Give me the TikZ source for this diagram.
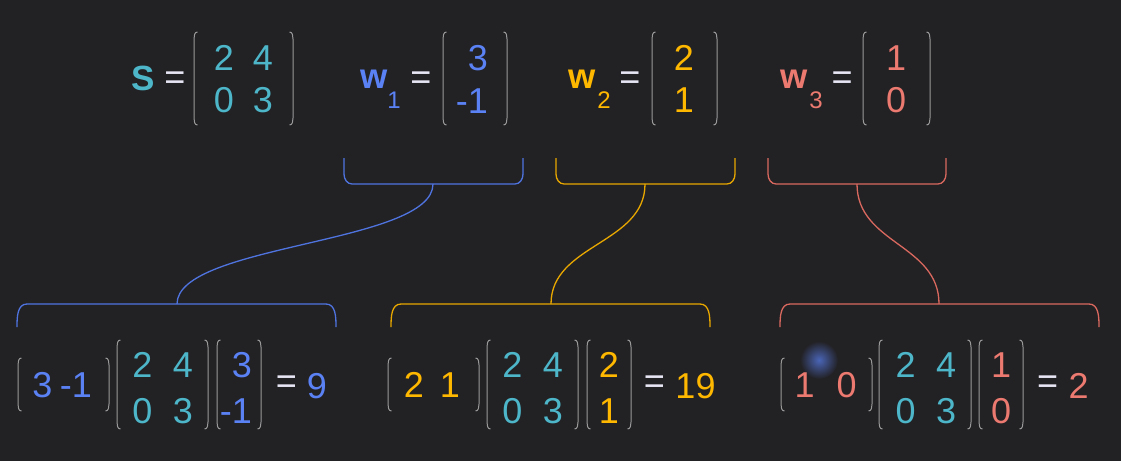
\documentclass[tikz,border=0pt]{standalone}
\usepackage{fontspec}
\setmainfont{Liberation Sans}
\definecolor{bg}{HTML}{222124}
\definecolor{teal}{HTML}{4DB6C9}
\definecolor{bluec}{HTML}{5B82F5}
\definecolor{blueb}{HTML}{4F74E0}
\definecolor{yel}{HTML}{FFB800}
\definecolor{yelb}{HTML}{E8A800}
\definecolor{redc}{HTML}{EC7A70}
\definecolor{redb}{HTML}{D9685F}
\definecolor{eqc}{HTML}{E6E6F5}
\definecolor{brk}{HTML}{999999}
\tikzset{
  num/.style={anchor=base,inner sep=0pt,font=\fontsize{36}{42}\selectfont},
  numr/.style={anchor=base east,inner sep=0pt,font=\fontsize{36}{42}\selectfont},
  eqs/.style={anchor=center,inner sep=0pt,text=eqc,font=\fontsize{36}{42}\selectfont},
  vname/.style={anchor=base,inner sep=0pt,font=\fontsize{35}{40}\selectfont\bfseries},
  subs/.style={anchor=base,inner sep=0pt,font=\fontsize{24}{28}\selectfont},
  bline/.style={draw=brk,line width=1pt},
  brace/.style={line width=1.3pt},
}
% left bracket: #1 x, #2 top, #3 bottom
\newcommand{\lbr}[3]{\draw[bline] (#1+3.5,#2) to[out=180,in=90] (#1,#2+7) -- (#1,#3-7) to[out=-90,in=180] (#1+3.5,#3);}
\newcommand{\rbr}[3]{\draw[bline] (#1-3.5,#2) to[out=0,in=90] (#1,#2+7) -- (#1,#3-7) to[out=-90,in=0] (#1-3.5,#3);}
\newcommand{\mybrk}[4]{\lbr{#1}{#3}{#4}\rbr{#2}{#3}{#4}}
\begin{document}
\begin{tikzpicture}[x=1pt,y=-1pt]
\fill[bg] (0,0) rectangle (1121,461);
\useasboundingbox (0,0) rectangle (1121,461);

% ---------- top row ----------
\node[vname,text=teal] (S) at (143,90) {S};
\node[eqs] (eqS) at (175,81) {=};
\mybrk{194}{293}{32}{125}
\node[num,text=teal] (s11) at (224,70) {2};
\node[num,text=teal] (s12) at (263,70) {4};
\node[num,text=teal] (s21) at (224,112) {0};
\node[num,text=teal] (s22) at (263,112) {3};

\node[vname,text=bluec] (w1) at (374,88) {w};
\node[subs,text=bluec] (w1s) at (394,108) {1};
\node[eqs] (eq1) at (421,81) {=};
\mybrk{443}{507}{32}{125}
\node[numr,text=bluec] (w1a) at (488,70) {3};
\node[numr,text=bluec] (w1b) at (488,113) {-1};

\node[vname,text=yel] (w2) at (582,88) {w};
\node[subs,text=yel] (w2s) at (604,108) {2};
\node[eqs] (eq2) at (630,81) {=};
\mybrk{652}{717}{32}{125}
\node[num,text=yel] (w2a) at (684,70) {2};
\node[num,text=yel] (w2b) at (684,112) {1};

\node[vname,text=redc] (w3) at (794,88) {w};
\node[subs,text=redc] (w3s) at (816,108) {3};
\node[eqs] (eq3) at (842,81) {=};
\mybrk{863}{930}{32}{125}
\node[num,text=redc] (w3a) at (896,70) {1};
\node[num,text=redc] (w3b) at (896,112) {0};

% ---------- top braces ----------
\coordinate (tb1) at (433,184);
\coordinate (tb2) at (645,184);
\coordinate (tb3) at (857,184);
\coordinate (bb1) at (177,304);
\coordinate (bb2) at (551,304);
\coordinate (bb3) at (939,304);

\draw[brace,blueb] (344,158) -- (344,174) to[out=-90,in=180] (352,184) -- (515,184) to[out=0,in=-90] (523,174) -- (523,158);
\draw[brace,yelb] (556,158) -- (556,174) to[out=-90,in=180] (564,184) -- (727,184) to[out=0,in=-90] (735,174) -- (735,158);
\draw[brace,redb] (768,158) -- (768,174) to[out=-90,in=180] (776,184) -- (938,184) to[out=0,in=-90] (946,174) -- (946,158);

% ---------- bottom braces ----------
\draw[brace,blueb] (17,327) to[out=90,in=180] (27,304) -- (326,304) to[out=0,in=90] (336,327);
\draw[brace,yelb] (391,327) to[out=90,in=180] (401,304) -- (700,304) to[out=0,in=90] (710,327);
\draw[brace,redb] (780,327) to[out=90,in=180] (790,304) -- (1089,304) to[out=0,in=90] (1099,327);

% ---------- connectors ----------
\draw[brace,blueb] (tb1) .. controls (433,244) and (177,244) .. (bb1);
\draw[brace,yelb] (tb2) .. controls (645,244) and (551,244) .. (bb2);
\draw[brace,redb] (tb3) .. controls (857,244) and (939,244) .. (bb3);

% ---------- bottom row 1 ----------
\mybrk{18}{109}{358}{411}
\node[num,text=bluec] (r1a) at (42.5,397) {3};
\node[num,text=bluec] (r1b) at (76,397) {-1};
\mybrk{117}{208}{340}{429}
\node[num,text=teal] (m1a) at (142.5,377) {2};
\node[num,text=teal] (m1b) at (183,377) {4};
\node[num,text=teal] (m1c) at (142.5,423) {0};
\node[num,text=teal] (m1d) at (183,423) {3};
\mybrk{217}{261}{340}{429}
\node[numr,text=bluec] (c1a) at (252,377) {3};
\node[numr,text=bluec] (c1b) at (252,423) {-1};
\node[eqs] (e1) at (286.5,385) {=};
\node[num,text=bluec] (res1) at (317,398) {9};

% ---------- bottom row 2 ----------
\mybrk{388}{479}{358}{411}
\node[num,text=yel] (r2a) at (414,397) {2};
\node[num,text=yel] (r2b) at (450,397) {1};
\mybrk{487}{578}{340}{429}
\node[num,text=teal] (m2a) at (512.5,377) {2};
\node[num,text=teal] (m2b) at (553,377) {4};
\node[num,text=teal] (m2c) at (512.5,423) {0};
\node[num,text=teal] (m2d) at (553,423) {3};
\mybrk{587}{631}{340}{429}
\node[num,text=yel] (c2a) at (609,377) {2};
\node[num,text=yel] (c2b) at (609,423) {1};
\node[eqs] (e2) at (654.5,385) {=};
\node[num,text=yel] (res2) at (695.5,398) {19};

% ---------- bottom row 3 ----------
\shade[inner color=bluec!70!bg,outer color=bg] (819,360) circle (19);
\mybrk{781}{872}{358}{411}
\node[num,text=redc] (r3a) at (804.5,397) {1};
\node[num,text=redc] (r3b) at (846.5,397) {0};
\mybrk{879}{971}{340}{429}
\node[num,text=teal] (m3a) at (905.5,377) {2};
\node[num,text=teal] (m3b) at (946,377) {4};
\node[num,text=teal] (m3c) at (905.5,423) {0};
\node[num,text=teal] (m3d) at (946,423) {3};
\mybrk{979}{1023}{340}{429}
\node[num,text=redc] (c3a) at (1001,377) {1};
\node[num,text=redc] (c3b) at (1001,423) {0};
\node[eqs] (e3) at (1047.5,385) {=};
\node[num,text=redc] (res3) at (1078.5,398) {2};
\end{tikzpicture}
\end{document}
